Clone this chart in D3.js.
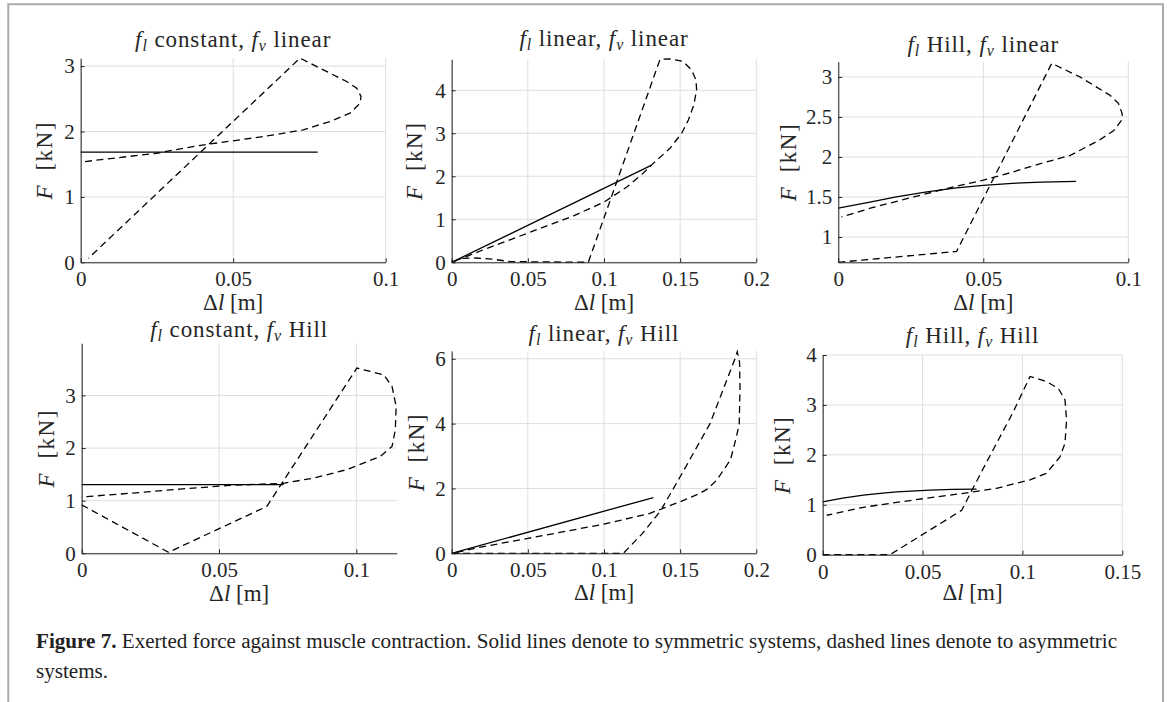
<!DOCTYPE html>
<html>
<head>
<meta charset="utf-8">
<script src="https://cdn.jsdelivr.net/npm/d3@7"></script>
<style>body{margin:0;background:#fff}</style>
</head>
<body>
<svg id="fig" width="1171" height="702"></svg>
<script>
// Panel titles: f_l type, f_v type
const titles = [["constant","linear"],["linear","linear"],["Hill","linear"],
                ["constant","Hill"],["linear","Hill"],["Hill","Hill"]];
const xDomains = [[0,0.1],[0,0.2],[0,0.1],[0,0.1147],[0,0.2],[0,0.15]];
const yDomains = [[0,3.12],[0,4.72],[0.684,3.19],[0,3.99],[0,6.24],[0,4]];
const xTicks = [[0,0.05,0.1],[0,0.05,0.1,0.15,0.2],[0,0.05,0.1],
                [0,0.05,0.1],[0,0.05,0.1,0.15,0.2],[0,0.05,0.1,0.15]];
const yTicks = [[0,1,2,3],[0,1,2,3,4],[1,1.5,2,2.5,3],[0,1,2,3],[0,2,4,6],[0,1,2,3,4]];

// symmetric systems (solid), [dl m, F kN]
const solid1 = [[0,1.684],[0.0777,1.684]];
const solid2 = [[0,0],[0.1313,2.26]];
const solid3 = [[0,1.36],[0.01,1.43],[0.02,1.5],[0.03,1.56],[0.04,1.61],[0.05,1.645],[0.06,1.67],[0.07,1.685],[0.082,1.695]];
const solid4 = [[0,1.306],[0.0735,1.306]];
const solid5 = [[0,0],[0.1324,1.72]];
const solid6 = [[0,1.06],[0.01,1.135],[0.0204,1.195],[0.03,1.235],[0.037,1.26],[0.0537,1.295],[0.065,1.31],[0.077,1.315]];

// asymmetric systems (dashed)
const dash1 = [[0.0014,1.541],[0.0249,1.668],[0.038,1.781],[0.0599,1.923],[0.073,2.026],[0.0817,2.153],
  [0.0883,2.281],[0.0916,2.434],[0.0919,2.536],[0.0905,2.663],[0.0872,2.765],[0.0719,3.122],[0.0025,0.061]];
const dash2 = [[0,0],[0.0066,0.093],[0.0164,0.1],[0.0274,0.07],[0.0383,0.016],[0.0897,0],[0.1368,4.72],
  [0.1433,4.73],[0.152,4.67],[0.1575,4.47],[0.1604,4.24],[0.1608,4.01],[0.159,3.66],[0.1554,3.31],[0.151,3.0],
  [0.1433,2.65],[0.1324,2.3],[0.125,2.05],[0.115,1.75],[0.1,1.4],[0.08,1.08],[0.05,0.68],[0.02,0.28],[0,0]];
const dash3 = [[0,0.684],[0.0408,0.82],[0.0736,3.17],[0.0833,3.0],[0.0937,2.77],[0.0966,2.67],[0.0979,2.54],
  [0.0977,2.46],[0.095,2.33],[0.09,2.21],[0.08,2.02],[0.07,1.92],[0.06,1.81],[0.05,1.71],[0.04,1.63],
  [0.026,1.5],[0.012,1.37],[0.0011,1.25]];
const dash4 = [[0,0.92],[0.0316,0.02],[0.0674,0.89],[0.1002,3.52],[0.11,3.39],[0.113,3.17],[0.1145,2.79],
  [0.1142,2.35],[0.113,2.03],[0.1087,1.84],[0.0966,1.59],[0.0845,1.43],[0.0735,1.33],[0.054,1.29],
  [0.0358,1.22],[0.0176,1.14],[0,1.07]];
const dash5 = [[0,0],[0.1127,0],[0.125,0.6],[0.137,1.3],[0.15,2.36],[0.1696,4.0],[0.186,6.0],[0.1875,6.22],
  [0.189,5.9],[0.1893,5.1],[0.1888,4.0],[0.187,3.6],[0.183,2.88],[0.174,2.26],[0.1685,2.0],[0.163,1.85],
  [0.15,1.59],[0.13,1.23],[0.1,0.9],[0.05,0.46],[0.02,0.2],[0,0]];
const dash6 = [[0,0],[0.0337,0],[0.0696,0.89],[0.0746,1.28],[0.082,1.85],[0.0954,2.86],[0.1038,3.57],
  [0.112,3.47],[0.118,3.33],[0.1213,3.1],[0.1221,2.7],[0.1213,2.23],[0.1188,1.96],[0.112,1.63],
  [0.1038,1.5],[0.087,1.33],[0.0704,1.23],[0.0454,1.095],[0.0204,0.95],[0.002,0.79]];

const solids = [solid1, solid2, solid3, solid4, solid5, solid6];
const dashes = [dash1, dash2, dash3, dash4, dash5, dash6];

const captionBold = "Figure 7.";
const captionLine1 = " Exerted force against muscle contraction. Solid lines denote to symmetric systems, dashed lines denote to asymmetric";
const captionLine2 = "systems.";

// pixel layout of each axes box
const boxes = [
  {l:80.7, r:385.7, t:58.3, b:262.3, titleY:46.7, labY:310, ylab:29},
  {l:451.7, r:756.3, t:59.3, b:262.3, titleY:46, labY:310, ylab:30},
  {l:838.3, r:1128.3, t:61.7, b:262.3, titleY:51.7, labY:310, ylab:42},
  {l:81.7, r:396.7, t:343.3, b:553.3, titleY:336.7, labY:601, ylab:28},
  {l:451.7, r:756.3, t:351, b:553.3, titleY:340.7, labY:600, ylab:28},
  {l:822.7, r:1122.3, t:355, b:554.7, titleY:343, labY:600, ylab:33}
];

const serif = "'Liberation Serif', 'Times New Roman', serif";
const ink = "#262626";
const svg = d3.select("#fig");

// page frame
svg.append("path").attr("d", "M8.3,702V4.3H1163V702")
  .attr("fill", "none").attr("stroke", "#aaa").attr("stroke-width", 2);

boxes.forEach((bx, i) => {
  const x = d3.scaleLinear().domain(xDomains[i]).range([bx.l, bx.r]);
  const y = d3.scaleLinear().domain(yDomains[i]).range([bx.b, bx.t]);
  const g = svg.append("g");

  g.append("g").selectAll("line").data(xTicks[i]).join("line")
    .attr("x1", d => x(d)).attr("x2", d => x(d)).attr("y1", bx.t).attr("y2", bx.b)
    .attr("stroke", "#dedede");
  g.append("g").selectAll("line").data(yTicks[i]).join("line")
    .attr("y1", d => y(d)).attr("y2", d => y(d)).attr("x1", bx.l).attr("x2", bx.r)
    .attr("stroke", "#dedede");

  const line = d3.line().x(d => x(d[0])).y(d => y(d[1]));
  g.append("path").datum(solids[i]).attr("d", line)
    .attr("fill", "none").attr("stroke", "#000").attr("stroke-width", 1.3);
  g.append("path").datum(dashes[i]).attr("d", line)
    .attr("fill", "none").attr("stroke", "#000").attr("stroke-width", 1.3)
    .attr("stroke-dasharray", "7,4.5");

  const ax = g.append("g").attr("transform", `translate(0,${bx.b})`)
    .call(d3.axisBottom(x).tickValues(xTicks[i]).tickFormat(d => String(d))
      .tickSizeInner(-4).tickSizeOuter(0).tickPadding(9));
  const ay = g.append("g").attr("transform", `translate(${bx.l},0)`)
    .call(d3.axisLeft(y).tickValues(yTicks[i]).tickFormat(d => String(d))
      .tickSizeInner(-4).tickSizeOuter(0).tickPadding(6));
  [ax, ay].forEach(a => {
    a.attr("font-family", serif).attr("font-size", 21);
    a.selectAll("path,line").attr("stroke", ink);
    a.selectAll("text").attr("fill", ink);
  });

  // title
  const t = g.append("text").attr("x", (bx.l + bx.r) / 2).attr("y", bx.titleY)
    .attr("text-anchor", "middle").attr("font-family", serif).attr("font-size", 23)
    .attr("letter-spacing", 0.9).attr("fill", ink);
  t.append("tspan").attr("font-style", "italic").text("f");
  t.append("tspan").attr("font-style", "italic").attr("font-size", 16).attr("dy", 4).text("l");
  t.append("tspan").attr("dy", -4).text(" " + titles[i][0] + ", ");
  t.append("tspan").attr("font-style", "italic").text("f");
  t.append("tspan").attr("font-style", "italic").attr("font-size", 16).attr("dy", 4).text("v");
  t.append("tspan").attr("dy", -4).text(" " + titles[i][1]);

  // x label
  const xl = g.append("text").attr("x", (bx.l + bx.r) / 2).attr("y", bx.labY)
    .attr("text-anchor", "middle").attr("font-family", serif).attr("font-size", 23).attr("fill", ink);
  xl.append("tspan").text("Δ");
  xl.append("tspan").attr("font-style", "italic").text("l");
  xl.append("tspan").text(" [m]");

  // y label
  const yl = g.append("text")
    .attr("transform", `translate(${bx.l - bx.ylab},${(bx.t + bx.b) / 2}) rotate(-90)`)
    .attr("text-anchor", "middle").attr("font-family", serif).attr("font-size", 23)
    .attr("letter-spacing", 1.5).attr("fill", ink);
  yl.append("tspan").attr("font-style", "italic").text("F");
  yl.append("tspan").attr("dx", 6).text(" [kN]");
});

const cap = svg.append("text").attr("x", 36).attr("y", 648)
  .attr("font-family", serif).attr("font-size", 21.1).attr("fill", "#222");
cap.append("tspan").attr("font-weight", "bold").text(captionBold);
cap.append("tspan").text(captionLine1);
svg.append("text").attr("x", 36).attr("y", 678)
  .attr("font-family", serif).attr("font-size", 21.1).attr("fill", "#222").text(captionLine2);
</script>
</body>
</html>
